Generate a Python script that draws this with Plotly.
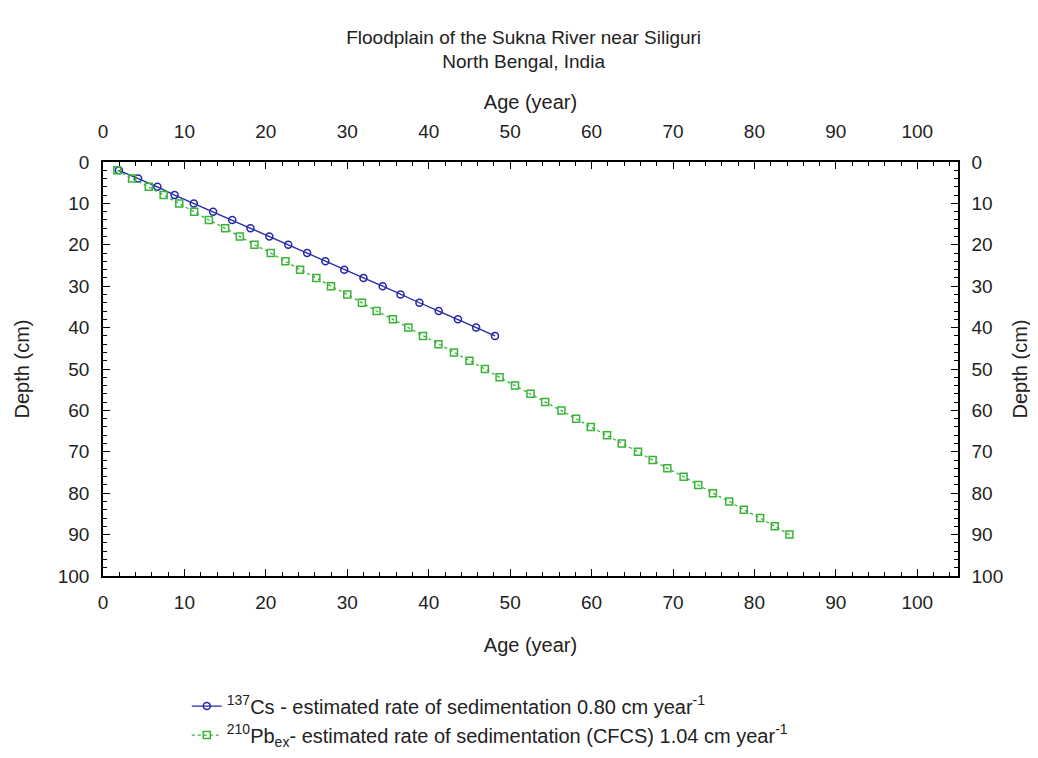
import plotly.graph_objects as go

# ---- data ----
cs_depth = [2, 4, 6, 8, 10, 12, 14, 16, 18, 20, 22, 24, 26, 28, 30, 32, 34, 36, 38, 40, 42]
cs_age = [1.95, 4.31, 6.68, 8.79, 11.15, 13.52, 15.87, 18.11, 20.43, 22.75, 25.07,
          27.31, 29.63, 31.99, 34.35, 36.54, 38.86, 41.23, 43.59, 45.82, 48.14]

pb_depth = [2, 4, 6, 8, 10, 12, 14, 16, 18, 20, 22, 24, 26, 28, 30, 32, 34, 36, 38, 40,
            42, 44, 46, 48, 50, 52, 54, 56, 58, 60, 62, 64, 66, 68, 70, 72, 74, 76, 78, 80,
            82, 84, 86, 88, 90]
pb_age = [1.75, 3.57, 5.62, 7.45, 9.36, 11.2, 13.0, 15.0, 16.8, 18.6, 20.6, 22.4, 24.2,
          26.2, 28.0, 30.0, 31.8, 33.6, 35.6, 37.5, 39.3, 41.2, 43.1, 45.0, 46.9, 48.7,
          50.6, 52.5, 54.3, 56.3, 58.1, 59.9, 61.9, 63.7, 65.7, 67.5, 69.3, 71.3, 73.1,
          74.9, 76.9, 78.7, 80.7, 82.5, 84.3]

cs_name = "<sup>137</sup>Cs - estimated rate of sedimentation 0.80 cm year<sup>-1</sup>"
pb_name = "<sup>210</sup>Pb<sub>ex</sub>- estimated rate of sedimentation (CFCS) 1.04 cm year<sup>-1</sup>"
title_text = "Floodplain of the Sukna River near Siliguri<br>North Bengal, India"
x_title = "Age (year)"
y_title = "Depth (cm)"

FONT = "Liberation Sans, Arial, sans-serif"
TXT = "#222222"
BLUE = "#2626aa"
GREEN = "#36b436"

fig = go.Figure()
fig.add_trace(go.Scatter(
    x=cs_age, y=cs_depth, mode="lines+markers", name=cs_name,
    line=dict(color=BLUE, width=1.3),
    marker=dict(symbol="circle-open", size=7, color=BLUE, line=dict(width=1.5)),
))
fig.add_trace(go.Scatter(
    x=pb_age, y=pb_depth, mode="lines+markers", name=pb_name,
    line=dict(color=GREEN, width=1.3, dash="dot"),
    marker=dict(symbol="square-open", size=7, color=GREEN, line=dict(width=1.5)),
))
# invisible trace to activate the mirrored (top/right) axes
fig.add_trace(go.Scatter(x=[None], y=[None], xaxis="x2", yaxis="y2",
                         showlegend=False, hoverinfo="skip"))

common = dict(
    showline=True, linecolor="black", linewidth=1.5,
    ticks="inside", ticklen=7, tickwidth=1.2, tickcolor="black",
    minor=dict(ticks="inside", ticklen=4, tickwidth=1, tickcolor="black", dtick=2),
    showgrid=False, zeroline=False, dtick=10,
    tickfont=dict(family=FONT, size=19, color=TXT),
    title_font=dict(family=FONT, size=20, color=TXT),
)

fig.update_layout(
    width=1038, height=758,
    margin=dict(l=95, r=88, t=154, b=173),
    paper_bgcolor="white", plot_bgcolor="white",
    font=dict(family=FONT, size=20, color=TXT),
    title=dict(text=title_text, x=0.492, xref="paper", xanchor="center",
               y=0.953, yref="container", yanchor="top",
               font=dict(family=FONT, size=19, color=TXT)),
    xaxis=dict(range=[0, 105], side="bottom", ticklabelstandoff=8,
               title=dict(text=x_title, standoff=26), **common),
    xaxis2=dict(range=[0, 105], side="top", overlaying="x", anchor="y", ticklabelstandoff=15,
                title=dict(text=x_title, standoff=6), **common),
    yaxis=dict(range=[100, 0], side="left", ticklabelstandoff=8,
               title=dict(text=y_title, standoff=23), **common),
    yaxis2=dict(range=[100, 0], side="right", overlaying="y", anchor="x", ticklabelstandoff=8,
                title=dict(text=y_title, standoff=11), **common),
    legend=dict(x=0.098, xanchor="left", y=-0.267, yanchor="top",
                bgcolor="rgba(0,0,0,0)", font=dict(family=FONT, size=20, color=TXT),
                tracegroupgap=0, itemwidth=30),
    showlegend=True,
)

fig.write_html("out.html")
